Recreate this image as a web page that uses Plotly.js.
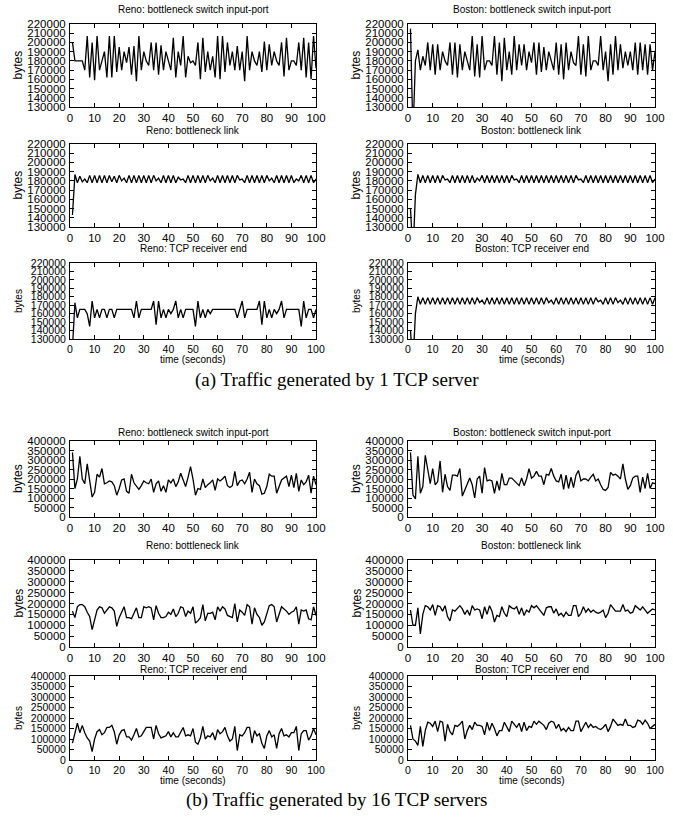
<!DOCTYPE html>
<html><head><meta charset="utf-8">
<script src="https://cdn.plot.ly/plotly-3.0.1.min.js"></script>
<style>html,body{margin:0;padding:0;background:#fff}#chart{width:673px;height:819px}</style>
</head><body><div id="chart"></div>
<script>
// ---- data ----
const seconds = [1,2,3,4,5,6,7,8,9,10,11,12,13,14,15,16,17,18,19,20,21,22,23,24,25,26,27,28,29,30,31,32,33,34,35,36,37,38,39,40,41,42,43,44,45,46,47,48,49,50,51,52,53,54,55,56,57,58,59,60,61,62,63,64,65,66,67,68,69,70,71,72,73,74,75,76,77,78,79,80,81,82,83,84,85,86,87,88,89,90,91,92,93,94,95,96,97,98,99,100];
const xTicks = [0,10,20,30,40,50,60,70,80,90,100];

// (a) 1 TCP server
const renoInput1 = [200000,180000,180000,180000,180000,170000,207000,162000,200000,159000,
207000,170000,180000,190000,162000,207000,162000,207000,168000,195000,
170000,190000,178000,195000,165000,196000,158000,207000,170000,190000,
180000,175000,200000,170000,200000,165000,197000,170000,190000,180000,
170000,205000,162000,190000,175000,207000,162000,185000,178000,180000,
175000,200000,160000,205000,168000,190000,170000,185000,162000,207000,
160000,207000,168000,200000,175000,190000,170000,196000,170000,190000,
158000,207000,170000,190000,180000,175000,190000,168000,201000,170000,
198000,175000,190000,180000,175000,200000,163000,205000,170000,180000,
180000,175000,200000,170000,205000,162000,200000,160000,207000,172000];
const bostonInput1 = [215000,100000,180000,192000,170000,185000,175000,200000,170000,198000,
165000,198000,170000,190000,180000,175000,200000,165000,200000,162000,
198000,170000,190000,180000,170000,207000,163000,198000,162000,207000,
170000,180000,180000,175000,207000,165000,200000,158000,205000,170000,
190000,165000,207000,170000,198000,175000,198000,170000,190000,178000,
200000,165000,200000,168000,195000,170000,190000,180000,170000,200000,
165000,198000,160000,200000,170000,190000,178000,175000,207000,165000,
198000,163000,207000,170000,180000,180000,175000,207000,170000,190000,
158000,198000,165000,207000,170000,198000,172000,190000,175000,190000,
170000,200000,165000,200000,170000,198000,165000,198000,170000,190000];
const renoLink1 = [143000,187000,178000,185000,179000,182000,178000,186000,178000,186000,
178000,186000,178000,186000,178000,186000,179000,185000,178000,186000,
180000,183000,178000,186000,178000,186000,178000,186000,178000,186000,
178000,186000,178000,186000,180000,183000,178000,186000,178000,186000,
178000,186000,178000,184000,181000,182000,178000,186000,178000,186000,
178000,186000,178000,186000,178000,186000,180000,183000,178000,186000,
178000,186000,178000,186000,178000,186000,178000,186000,181000,182000,
178000,186000,178000,186000,178000,186000,178000,186000,178000,186000,
180000,183000,178000,186000,178000,186000,178000,186000,178000,186000,
178000,182000,180000,186000,178000,186000,178000,186000,178000,182000];
const bostonLink1 = [150000,100000,165000,187000,178000,186000,178000,186000,178000,186000,
178000,186000,178000,186000,181000,182000,178000,186000,178000,186000,
178000,186000,178000,186000,178000,186000,178000,183000,180000,186000,
178000,186000,178000,186000,178000,186000,178000,186000,178000,186000,
178000,186000,181000,182000,178000,186000,178000,186000,178000,186000,
178000,186000,178000,186000,178000,186000,178000,186000,178000,186000,
178000,186000,178000,186000,178000,186000,178000,186000,181000,182000,
178000,186000,178000,186000,178000,186000,178000,186000,178000,186000,
178000,186000,178000,186000,178000,186000,178000,186000,178000,186000,
178000,186000,178000,186000,178000,186000,178000,186000,178000,182000];
const renoRecv1 = [120000,173000,155000,165000,165000,165000,160000,145000,175000,155000,
165000,155000,165000,165000,155000,165000,165000,155000,165000,165000,
165000,165000,165000,165000,165000,155000,175000,155000,165000,165000,
165000,165000,165000,175000,147000,175000,155000,165000,155000,165000,
160000,165000,175000,155000,165000,155000,165000,165000,165000,165000,
145000,175000,155000,165000,155000,165000,160000,165000,165000,165000,
165000,165000,165000,165000,165000,165000,165000,155000,165000,175000,
155000,165000,165000,165000,165000,165000,175000,147000,175000,155000,
165000,155000,165000,160000,165000,175000,155000,165000,165000,165000,
165000,165000,165000,145000,175000,155000,165000,165000,155000,165000];
const bostonRecv1 = [140000,100000,160000,180000,171000,179000,171000,179000,171000,179000,
171000,179000,171000,179000,171000,179000,171000,179000,171000,179000,
171000,179000,171000,179000,171000,179000,171000,179000,173000,176000,
171000,179000,171000,179000,171000,179000,171000,179000,171000,179000,
171000,179000,171000,179000,171000,179000,171000,179000,171000,179000,
171000,179000,171000,179000,171000,179000,173000,176000,171000,179000,
171000,179000,171000,179000,171000,179000,171000,179000,171000,179000,
171000,179000,171000,179000,171000,179000,174000,176000,171000,179000,
171000,179000,171000,179000,173000,176000,171000,179000,171000,179000,
171000,179000,171000,179000,171000,179000,171000,179000,171000,179000];

// (b) 16 TCP servers
const renoInput16 = [340000,150000,200000,320000,200000,175000,280000,200000,105000,130000,
225000,210000,255000,175000,180000,190000,185000,165000,115000,150000,
195000,200000,135000,125000,225000,180000,165000,145000,165000,190000,
180000,175000,200000,130000,175000,190000,135000,165000,130000,195000,
180000,200000,160000,185000,230000,190000,160000,210000,265000,200000,
115000,150000,145000,200000,155000,170000,180000,195000,140000,200000,
190000,200000,215000,165000,155000,165000,240000,165000,190000,195000,
175000,200000,235000,130000,200000,175000,165000,120000,125000,160000,
225000,215000,215000,125000,160000,195000,205000,215000,160000,220000,
155000,230000,135000,195000,170000,185000,220000,125000,215000,170000];
const bostonInput16 = [340000,115000,95000,320000,125000,160000,325000,240000,175000,255000,
170000,185000,295000,130000,225000,160000,140000,220000,220000,215000,
255000,110000,145000,180000,205000,170000,100000,200000,215000,125000,
260000,190000,195000,190000,125000,190000,140000,230000,170000,170000,
205000,205000,190000,180000,165000,205000,165000,200000,255000,205000,
215000,240000,215000,215000,170000,225000,220000,255000,215000,190000,
185000,225000,145000,220000,150000,210000,155000,220000,245000,190000,
200000,200000,190000,210000,225000,190000,200000,170000,145000,140000,
155000,235000,220000,225000,215000,200000,280000,200000,145000,165000,
205000,215000,215000,130000,210000,150000,230000,150000,180000,175000];
const renoLink16 = [165000,135000,185000,195000,195000,185000,160000,140000,80000,130000,
170000,185000,180000,155000,170000,185000,180000,165000,95000,135000,
160000,185000,135000,135000,130000,155000,180000,135000,135000,185000,
180000,185000,180000,125000,190000,155000,135000,135000,140000,160000,
150000,175000,140000,155000,185000,180000,140000,165000,155000,185000,
110000,120000,135000,195000,120000,155000,155000,160000,125000,185000,
165000,185000,175000,145000,140000,135000,200000,115000,170000,160000,
145000,195000,185000,105000,180000,150000,135000,100000,115000,155000,
190000,195000,185000,115000,155000,185000,175000,165000,150000,160000,
165000,185000,105000,170000,165000,170000,130000,125000,185000,145000];
const bostonLink16 = [170000,100000,100000,180000,60000,150000,190000,185000,170000,195000,
145000,190000,185000,165000,190000,140000,120000,170000,165000,180000,
190000,175000,150000,170000,145000,190000,170000,175000,170000,130000,
185000,150000,190000,165000,115000,145000,140000,185000,155000,140000,
190000,180000,175000,185000,150000,180000,145000,170000,160000,190000,
180000,190000,175000,160000,145000,180000,185000,185000,155000,175000,
145000,155000,140000,160000,145000,145000,190000,190000,140000,155000,
185000,160000,175000,160000,170000,160000,155000,160000,170000,135000,
155000,195000,180000,165000,165000,165000,195000,165000,170000,155000,
160000,190000,180000,170000,185000,170000,155000,165000,175000,170000];
const renoRecv16 = [80000,130000,175000,130000,165000,130000,105000,90000,40000,100000,
135000,145000,120000,130000,155000,155000,165000,135000,75000,120000,
140000,145000,110000,110000,95000,120000,150000,110000,115000,135000,
155000,155000,155000,100000,165000,125000,105000,110000,115000,135000,
110000,130000,110000,110000,135000,155000,115000,120000,115000,150000,
85000,75000,105000,160000,100000,115000,110000,130000,95000,145000,
125000,135000,155000,115000,90000,100000,160000,45000,120000,115000,
130000,155000,155000,80000,140000,115000,125000,80000,55000,115000,
140000,110000,120000,55000,125000,150000,115000,120000,110000,130000,
130000,160000,45000,125000,140000,140000,95000,115000,150000,120000];
const bostonRecv16 = [165000,100000,90000,70000,160000,65000,140000,180000,175000,160000,
185000,135000,185000,180000,90000,170000,135000,120000,165000,160000,
170000,185000,100000,140000,165000,145000,180000,165000,165000,160000,
120000,180000,140000,175000,150000,115000,140000,140000,180000,155000,
135000,185000,170000,155000,175000,135000,180000,140000,160000,155000,
185000,170000,185000,175000,165000,145000,175000,185000,180000,150000,
170000,140000,150000,135000,155000,140000,140000,185000,185000,135000,
155000,180000,155000,170000,155000,160000,150000,145000,155000,170000,
135000,160000,195000,180000,165000,170000,165000,195000,165000,165000,
155000,160000,190000,185000,170000,190000,175000,150000,160000,170000];

const panelTitles = ["Reno: bottleneck switch input-port","Boston: bottleneck switch input-port",
  "Reno: bottleneck link","Boston: bottleneck link","Reno: TCP receiver end","Boston: TCP receiver end"];
const rangeA = [130000, 220000], rangeB = [0, 400000];
const captionA = "(a) Traffic generated by 1 TCP server";
const captionB = "(b) Traffic generated by 16 TCP servers";

// ---- layout geometry (pixels) ----
const W = 673, H = 819;
const cols = [[70, 316], [408, 655]];
const rows = [[24, 107], [144, 227], [263, 339], [441, 517], [560, 647], [676, 760]];
const titleY = [10, 130, 248, 432, 545, 669];

const series = [
  [renoInput1, bostonInput1], [renoLink1, bostonLink1], [renoRecv1, bostonRecv1],
  [renoInput16, bostonInput16], [renoLink16, bostonLink16], [renoRecv16, bostonRecv16]
];

const px = v => v / W;
const py = v => 1 - v / H;
const font = "Liberation Sans, Arial, Helvetica, sans-serif";

const data = [];
const layout = {
  width: W, height: H, margin: {l: 0, r: 0, t: 0, b: 0},
  paper_bgcolor: "#fff", plot_bgcolor: "#fff", showlegend: false,
  font: {family: font, color: "#000"},
  annotations: []
};

let k = 0;
for (let r = 0; r < 6; r++) {
  for (let c = 0; c < 2; c++) {
    k++;
    const xa = "xaxis" + (k === 1 ? "" : k), ya = "yaxis" + (k === 1 ? "" : k);
    const xr = "x" + (k === 1 ? "" : k), yr = "y" + (k === 1 ? "" : k);
    data.push({x: seconds, y: series[r][c], xaxis: xr, yaxis: yr, type: "scatter", mode: "lines",
      line: {color: "#000", width: 1.3}, hoverinfo: "skip"});
    const isA = r < 3;
    const bottom = r % 3 === 2;
    const common = {showline: true, linecolor: "#000", linewidth: 1, mirror: "ticks", ticks: "inside",
      ticklen: 4, tickcolor: "#000", showgrid: false, zeroline: false, fixedrange: true};
    layout[xa] = Object.assign({}, common, {domain: [px(cols[c][0]), px(cols[c][1])], anchor: yr,
      range: [0, 100], tickvals: xTicks, ticklabelstandoff: 0,
      tickfont: {size: bottom ? 10.5 : 11.5, family: font, color: "#000"}});
    layout[ya] = Object.assign({}, common, {domain: [py(rows[r][1]), py(rows[r][0])], anchor: xr,
      range: isA ? rangeA : rangeB, dtick: isA ? 10000 : 50000, tick0: 0, tickformat: "d",
      ticklabelstandoff: 1, tickfont: {size: bottom ? 10.5 : 11.5, family: font, color: "#000"}});
    layout.annotations.push({text: panelTitles[(r % 3) * 2 + c], xref: "paper", yref: "paper",
      x: px((cols[c][0] + cols[c][1]) / 2), y: py(titleY[r]), xanchor: "center", yanchor: "middle",
      showarrow: false, font: {size: 10, family: font}});
    layout.annotations.push({text: "bytes", xref: "paper", yref: "paper", textangle: -90,
      x: px(cols[c][0] - 52), y: py((rows[r][0] + rows[r][1]) / 2), xanchor: "center", yanchor: "middle",
      showarrow: false, font: {size: bottom ? 10 : 12, family: font}});
    if (bottom) {
      layout.annotations.push({text: "time (seconds)", xref: "paper", yref: "paper",
        x: px((cols[c][0] + cols[c][1]) / 2), y: py(rows[r][1] + 20), xanchor: "center", yanchor: "middle",
        showarrow: false, font: {size: 10, family: font}});
    }
  }
}
layout.annotations.push({text: captionA, xref: "paper", yref: "paper", x: 0.5, y: py(380),
  xanchor: "center", yanchor: "middle", showarrow: false,
  font: {size: 19, family: "Liberation Serif, Times New Roman, serif"}});
layout.annotations.push({text: captionB, xref: "paper", yref: "paper", x: 0.5, y: py(800),
  xanchor: "center", yanchor: "middle", showarrow: false,
  font: {size: 19, family: "Liberation Serif, Times New Roman, serif"}});

Plotly.newPlot("chart", data, layout, {staticPlot: true, displayModeBar: false});
</script></body></html>
